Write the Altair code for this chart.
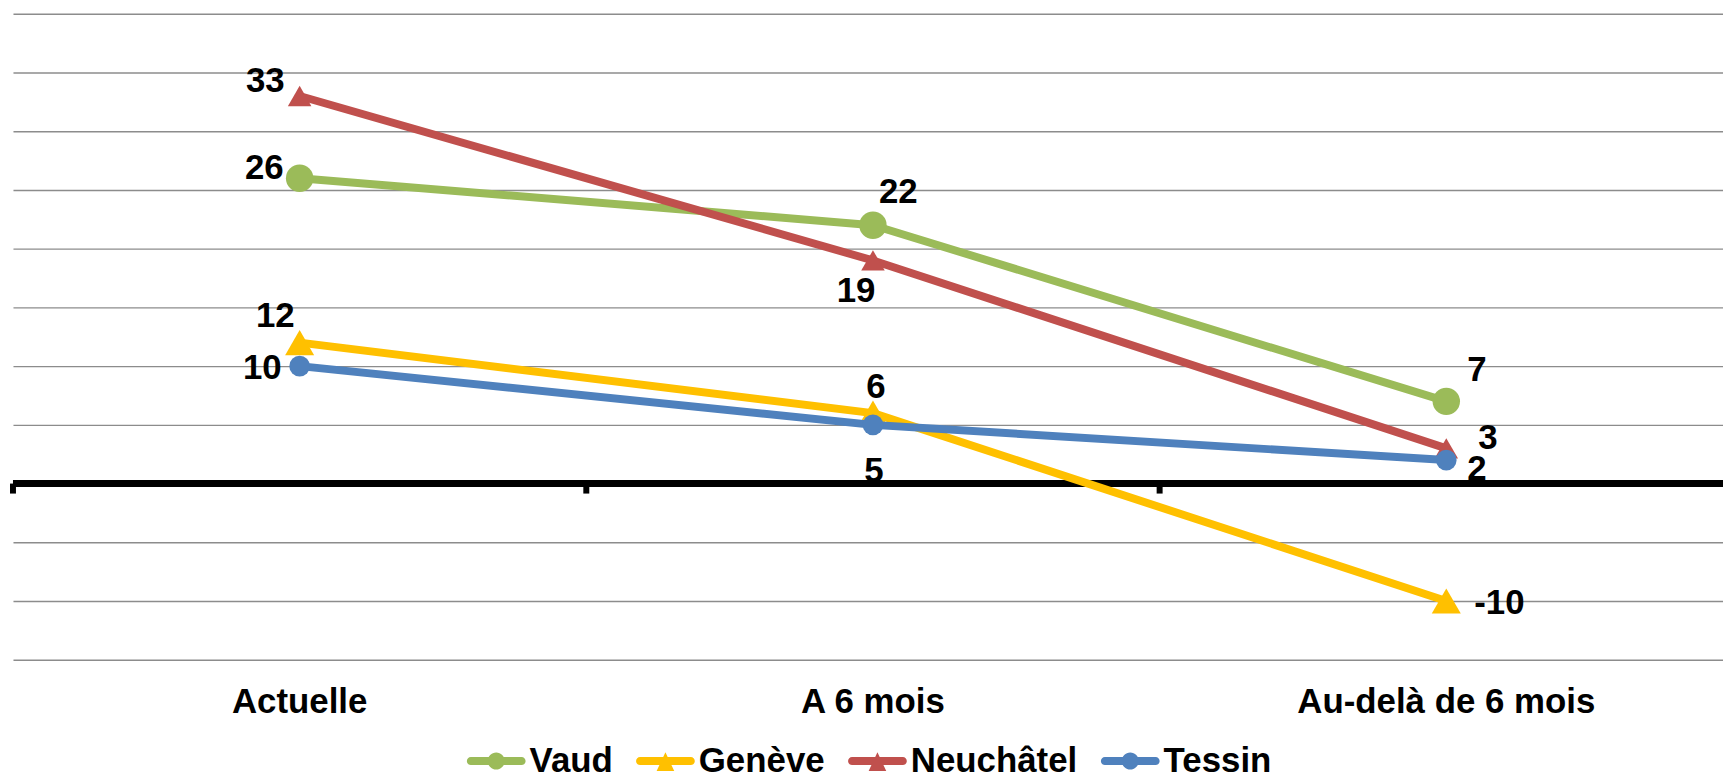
import altair as alt
import pandas as pd

categories = ["Actuelle", "A 6 mois", "Au-delà de 6 mois"]
series = ["Vaud", "Genève", "Neuchâtel", "Tessin"]
vaud = [26, 22, 7]
geneve = [12, 6, -10]
neuchatel = [33, 19, 3]
tessin = [10, 5, 2]
colors = ["#9BBB59", "#FFC000", "#C0504D", "#4F81BD"]
y_ticks = [-15, -10, -5, 0, 5, 10, 15, 20, 25, 30, 35, 40]

values = {"Vaud": vaud, "Genève": geneve, "Neuchâtel": neuchatel, "Tessin": tessin}
rows = [{"series": s, "cat": c, "value": v, "label": str(v)}
        for s in series for c, v in zip(categories, values[s])]
df = pd.DataFrame(rows)

# ---- styles (not data) ----
FONT = "Liberation Sans"
marker = {"Vaud": ("circle", 760), "Genève": ("triangle-up", 850),
          "Neuchâtel": ("triangle-up", 560), "Tessin": ("circle", 430)}
label_pos = {
    ("Vaud", "Actuelle"): ("right", -16, -10),
    ("Vaud", "A 6 mois"): ("left", 6, -33),
    ("Vaud", "Au-delà de 6 mois"): ("left", 21, -31),
    ("Genève", "Actuelle"): ("right", -5, -27),
    ("Genève", "A 6 mois"): ("center", 3, -26),
    ("Genève", "Au-delà de 6 mois"): ("left", 28, 2),
    ("Neuchâtel", "Actuelle"): ("right", -15, -15),
    ("Neuchâtel", "A 6 mois"): ("center", -17, 31),
    ("Neuchâtel", "Au-delà de 6 mois"): ("left", 32, -10),
    ("Tessin", "Actuelle"): ("right", -18, 2),
    ("Tessin", "A 6 mois"): ("center", 1, 46),
    ("Tessin", "Au-delà de 6 mois"): ("left", 21, 9),
}
circle_path = ("M-0.865,-0.135 H0.865 A0.135,0.135 0 0,1 0.865,0.135 H-0.865 "
               "A0.135,0.135 0 0,1 -0.865,-0.135 Z "
               "M-0.29,0 A0.29,0.29 0 1,1 0.29,0 A0.29,0.29 0 1,1 -0.29,0 Z")
tri_path = ("M-0.865,-0.135 H0.865 A0.135,0.135 0 0,1 0.865,0.135 H-0.865 "
            "A0.135,0.135 0 0,1 -0.865,-0.135 Z "
            "M0,-0.3 L0.3,0.34 L-0.3,0.34 Z")
legend_shapes = [circle_path, tri_path, tri_path, circle_path]

x_scale = alt.Scale(type="band", domain=categories, range=[0, 1728],
                    paddingInner=0, paddingOuter=0)
x_axis = alt.Axis(title=None, ticks=False, tickSize=0, domain=False, grid=False,
                  labelFont=FONT, labelFontSize=35, labelFontWeight="bold",
                  labelColor="black", labelPadding=42, labelBaseline="middle",
                  labelAngle=0, labelLimit=0)
y_scale = alt.Scale(domain=[-15, 40], nice=False, zero=False)
y_axis = alt.Axis(title=None, values=y_ticks, labels=False, ticks=False,
                  domain=False, grid=True, gridColor="#8c8c8c", gridWidth=1.4)
color_scale = alt.Scale(domain=series, range=colors)

X = alt.X("cat:N", sort=categories, scale=x_scale, axis=x_axis)
Y = alt.Y("value:Q", scale=y_scale, axis=y_axis)

layers = []

# zero line
layers.append(
    alt.Chart(pd.DataFrame({"z": [0]})).mark_rule(color="black", strokeWidth=7)
    .encode(y=alt.Y("z:Q", scale=y_scale, axis=y_axis))
)
# category ticks on zero line
layers.append(
    alt.Chart(pd.DataFrame({"cat": categories})).mark_rule(color="black", strokeWidth=6)
    .encode(x=alt.X("cat:N", sort=categories, scale=x_scale, axis=x_axis, bandPosition=0),
            y=alt.YDatum(0), y2=alt.Y2Datum(-0.85))
)

leg = alt.Legend(title=None, orient="none", legendX=456, legendY=721,
                 direction="horizontal", symbolSize=3481,
                 symbolStrokeWidth=0, symbolOpacity=1, labelFont=FONT,
                 labelFontSize=35, labelFontWeight="bold", labelColor="black",
                 labelOffset=4, columnPadding=23, padding=0, labelLimit=400)
# legend-only layer (first colour layer so its legend settings win the merge)
layers.append(
    alt.Chart(df).transform_filter(alt.datum.value > 1000)
    .mark_point(filled=True)
    .encode(x=X, y=Y,
            color=alt.Color("series:N", scale=color_scale, legend=leg),
            shape=alt.Shape("series:N", scale=alt.Scale(domain=series, range=legend_shapes),
                            legend=leg))
)

for s in series:
    sub = alt.Chart(df).transform_filter(alt.datum.series == s)
    layers.append(
        sub.mark_line(strokeWidth=8, strokeCap="round", strokeJoin="round")
        .encode(x=X, y=Y, color=alt.Color("series:N", scale=color_scale, legend=None))
    )
    shp, sz = marker[s]
    layers.append(
        sub.mark_point(filled=True, opacity=1, shape=shp, size=sz)
        .encode(x=X, y=Y, color=alt.Color("series:N", scale=color_scale, legend=None))
    )

for (s, c), (al, dx, dy) in label_pos.items():
    layers.append(
        alt.Chart(df).transform_filter((alt.datum.series == s) & (alt.datum.cat == c))
        .mark_text(align=al, baseline="middle", dx=dx, dy=dy, font=FONT,
                   fontSize=35, fontWeight="bold", color="black")
        .encode(x=X, y=Y, text=alt.Text("label:N"))
    )

chart = alt.layer(*layers).properties(
    width=1718, height=649,
    padding={"left": 5, "top": 4, "right": 0, "bottom": 118},
    autosize=alt.AutoSizeParams(type="none"),
    background="white",
).configure_view(stroke=None)

chart.save("out.html", embed_options={"renderer": "svg", "actions": False})
